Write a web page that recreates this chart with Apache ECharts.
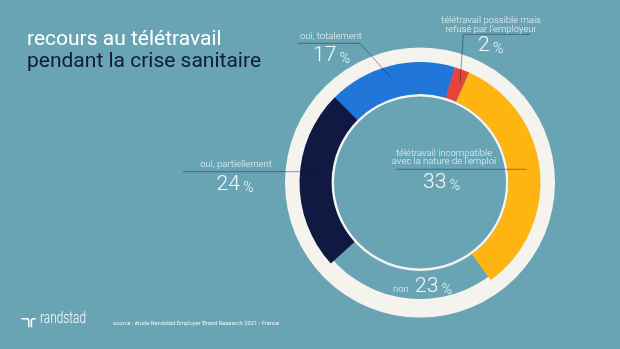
<!DOCTYPE html>
<html>
<head>
<meta charset="utf-8">
<script src="https://cdn.jsdelivr.net/npm/echarts@6/dist/echarts.min.js"></script>
<style>
html,body{margin:0;padding:0;background:#69a4b5;}
#c{width:620px;height:349px;}
</style>
</head>
<body>
<div id="c"></div>
<script>
// ---- data ----
const categories = ['oui, totalement', 'télétravail possible mais refusé par l\'employeur', 'télétravail incompatible avec la nature de l\'emploi', 'non', 'oui, partiellement'];
const values = [17, 2, 33, 23, 24];
const titleLines = ['recours au télétravail', 'pendant la crise sanitaire'];
const labelLines = [
  ['oui, totalement'],
  ['télétravail possible mais', 'refusé par l\'employeur'],
  ['télétravail incompatible', 'avec la nature de l\'emploi'],
  ['non'],
  ['oui, partiellement']
];
const sourceText = 'source : étude Randstad Employer Brand Research 2021 - France';
const brandText = 'randstad';

// ---- styles ----
const BG = '#69a4b5';
const RING = '#f5f3ee';
const sliceColors = ['#2176d9', '#e8453a', '#ffb511', 'rgba(0,0,0,0)', '#0f1941'];
const CX = 420, CY = 182.5;
const FONT = 'Roboto, "Open Sans", sans-serif';
const LINE = 'rgba(15,25,65,0.55)';

const chart = echarts.init(document.getElementById('c'), null, {renderer: 'canvas'});

function smallText(str, x, y, align) {
  return {type: 'text', silent: true, z: 10, style: {text: str, x: x, y: y, fill: '#eef4f6', font: '300 9.5px ' + FONT, textAlign: align || 'center', textVerticalAlign: 'middle'}};
}
function bigNum(v, x, yBottom) {
  return {type: 'text', silent: true, z: 10, style: {
    text: '{n|' + v + '}{p| %}', x: x, y: yBottom, textAlign: 'left', textVerticalAlign: 'bottom',
    rich: {
      n: {fontSize: 21, fontWeight: 300, fontFamily: FONT, fill: '#f4f8f9', verticalAlign: 'bottom', lineHeight: 21},
      p: {fontSize: 14, fontWeight: 300, fontFamily: FONT, fill: '#f4f8f9', verticalAlign: 'bottom', lineHeight: 16.2}
    }
  }};
}
function line(pts, color, w) {
  return {type: 'polyline', silent: true, z: 9, shape: {points: pts}, style: {stroke: color || LINE, lineWidth: w || 0.8, fill: null}};
}

const graphics = [
  {type: 'text', silent: true, style: {text: titleLines[0], x: 27, y: 50.5, fill: '#ffffff', font: '400 21px ' + FONT, textVerticalAlign: 'bottom'}},
  {type: 'text', silent: true, style: {text: titleLines[1], x: 27, y: 71.8, fill: '#0f1941', font: '400 21px ' + FONT, textVerticalAlign: 'bottom'}},
  // labels
  smallText(labelLines[0][0], 300, 37, 'left'),
  smallText(labelLines[1][0], 491, 20.5),
  smallText(labelLines[1][1], 491, 29.3),
  smallText(labelLines[2][0], 444, 153.5),
  smallText(labelLines[2][1], 444, 161.5),
  smallText(labelLines[3][0], 393, 289.5, 'left'),
  smallText(labelLines[4][0], 236, 165, 'center'),
  bigNum(values[0], 313, 66.6),
  bigNum(values[1], 478, 56.3),
  bigNum(values[2], 423, 193.3),
  bigNum(values[3], 415, 297),
  bigNum(values[4], 216.5, 195),
  // leader lines
  line([[298, 43.3], [360, 43.3], [390, 76.7]]),
  line([[530, 34.3], [463.3, 34.3], [460, 83.3]]),
  line([[183, 171.7], [317, 171.7]]),
  line([[396.7, 169.3], [526.7, 169.3]]),
  // footer logo
  line([[21.5, 318.7], [27, 318.7], [28.3, 319.2], [28.8, 320.5], [28.8, 327.3]], '#ffffff', 1.5),
  line([[31.4, 327.3], [31.4, 320.5], [31.9, 319.2], [33.2, 318.7], [35.8, 318.7]], '#ffffff', 1.5),
  {type: 'text', silent: true, x: 40, y: 327.5, scaleX: 0.72, style: {text: brandText, x: 0, y: 0, fill: '#ffffff', font: '300 16.5px ' + FONT, textVerticalAlign: 'bottom'}},
  {type: 'text', silent: true, style: {text: sourceText, x: 113, y: 323.8, fill: '#eef4f6', font: '5.8px ' + FONT, textVerticalAlign: 'middle'}}
];

chart.setOption({
  backgroundColor: BG,
  animation: false,
  series: [
    {
      type: 'pie', silent: true, center: [CX, CY], radius: [116.5, 135], z: 1,
      label: {show: false}, labelLine: {show: false},
      data: [{value: 1, itemStyle: {color: RING}}]
    },
    {
      type: 'pie', silent: true, center: [CX, CY], radius: [86, 88.5], z: 2,
      label: {show: false}, labelLine: {show: false},
      data: [{value: 1, itemStyle: {color: RING}}]
    },
    {
      type: 'pie', silent: true, center: [CX, CY], radius: [88.5, 120.5], z: 3,
      startAngle: 135, clockwise: true,
      label: {show: false}, labelLine: {show: false},
      itemStyle: {borderWidth: 0},
      data: categories.map((c, i) => ({name: c, value: values[i], itemStyle: {color: sliceColors[i]}}))
    }
  ],
  graphic: graphics
});
</script>
</body>
</html>
